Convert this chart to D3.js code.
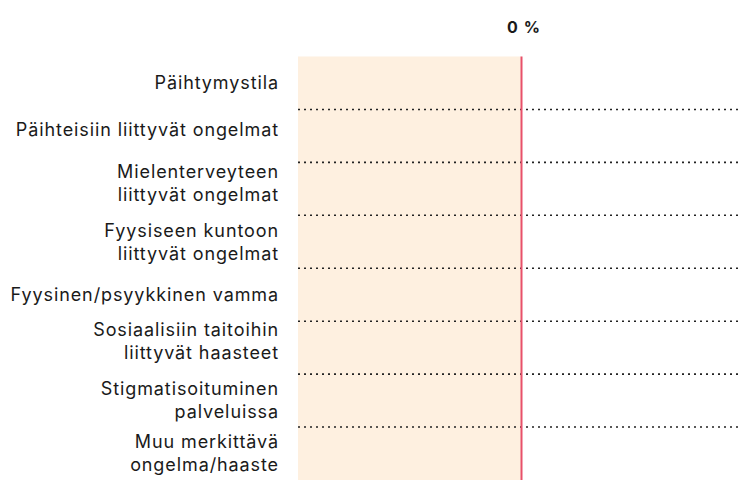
<!DOCTYPE html>
<html>
<head>
<meta charset="utf-8">
<script src="https://cdn.jsdelivr.net/npm/d3@7"></script>
<style>
  html, body { margin: 0; padding: 0; background: #fff; }
  svg { display: block; }
  text { font-family: Inter, "Noto Sans", sans-serif; fill: #1a1a1a; }
</style>
</head>
<body>
<svg id="chart" width="740" height="482"></svg>
<script>
// Categories (each entry is the label's lines)
const categories = [
  ["Päihtymystila"],
  ["Päihteisiin liittyvät ongelmat"],
  ["Mielenterveyteen", "liittyvät ongelmat"],
  ["Fyysiseen kuntoon", "liittyvät ongelmat"],
  ["Fyysinen/psyykkinen vamma"],
  ["Sosiaalisiin taitoihin", "liittyvät haasteet"],
  ["Stigmatisoituminen", "palveluissa"],
  ["Muu merkittävä", "ongelma/haaste"]
];
// Share of respondents (%)
const values = [0, 0, 0, 0, 0, 0, 0, 0];
const tickValues = [0];
const tickLabels = ["0 %"];
const xDomain = [-100, 100];

// layout
const W = 740, H = 482;
const plot = { left: 298, right: 745, top: 56.5, bottom: 480 };
const labelRight = 279;
const lineH = 23;
// per-row vertical nudge of the category labels (px)
const labelNudge = [0, -6, -6, 0, 0, -6, 0, 0];

const svg = d3.select("#chart");

const x = d3.scaleLinear().domain(xDomain).range([plot.left, plot.right]);
const y = d3.scaleBand()
  .domain(d3.range(categories.length))
  .range([plot.top, plot.bottom])
  .paddingInner(0).paddingOuter(0);

// negative half background
svg.append("rect")
  .attr("x", x(xDomain[0]))
  .attr("y", plot.top)
  .attr("width", x(0) - x(xDomain[0]))
  .attr("height", plot.bottom - plot.top)
  .attr("fill", "#fef0e0");

// dotted row separators
svg.append("g")
  .selectAll("line")
  .data(d3.range(1, categories.length))
  .join("line")
  .attr("x1", plot.left)
  .attr("x2", W)
  .attr("y1", i => y(i))
  .attr("y2", i => y(i))
  .attr("stroke", "#222")
  .attr("stroke-width", 1.6)
  .attr("stroke-dasharray", "2,4");

// bars
svg.append("g")
  .selectAll("rect")
  .data(values)
  .join("rect")
  .attr("x", d => Math.min(x(0), x(d)))
  .attr("width", d => Math.abs(x(d) - x(0)))
  .attr("y", (d, i) => y(i) + y.bandwidth() * 0.2)
  .attr("height", y.bandwidth() * 0.6)
  .attr("fill", "#e8506a");

// zero line
svg.append("line")
  .attr("x1", x(0)).attr("x2", x(0))
  .attr("y1", plot.top).attr("y2", plot.bottom)
  .attr("stroke", "#e8506a")
  .attr("stroke-width", 2);

// top axis labels
const xAxis = d3.axisTop(x)
  .tickValues(tickValues)
  .tickFormat((d, i) => tickLabels[i])
  .tickSize(0)
  .tickPadding(0);
const gx = svg.append("g")
  .attr("transform", `translate(0, 33)`)
  .call(xAxis);
gx.select(".domain").remove();
gx.selectAll("text")
  .attr("dy", 0)
  .attr("dx", 2)
  .style("font-family", "Inter, 'Noto Sans', sans-serif")
  .style("font-size", "16px")
  .style("font-weight", "700")
  .style("letter-spacing", "1px")
  .style("fill", "#1a1a1a");

// category labels
const lab = svg.append("g")
  .selectAll("text")
  .data(categories)
  .join("text")
  .attr("text-anchor", "end")
  .style("font-size", "18px")
  .style("letter-spacing", "0.9px")
  .attr("transform", (d, i) =>
    `translate(${labelRight}, ${y(i) + y.bandwidth() / 2 + labelNudge[i]})`);
lab.selectAll("tspan")
  .data(d => d.map((t, j) => ({ t, j, n: d.length })))
  .join("tspan")
  .attr("x", 0)
  .attr("y", d => (d.j - (d.n - 1) / 2) * lineH)
  .attr("dy", "0.35em")
  .text(d => d.t);
</script>
</body>
</html>
